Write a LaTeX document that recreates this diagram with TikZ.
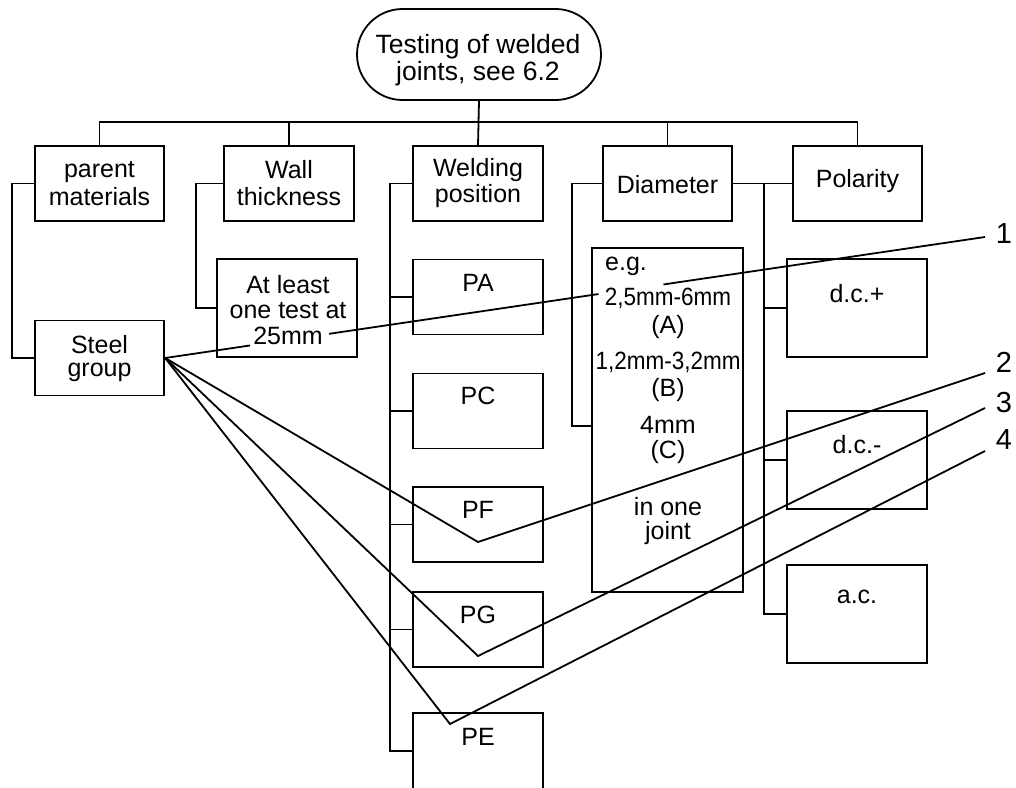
\documentclass[tikz,border=0pt]{standalone}
\usepackage{fontspec}
\setmainfont{Liberation Sans}
\newfontfamily\condfont{Liberation Sans}[FakeStretch=0.9]
\usetikzlibrary{calc}

\begin{document}
\begin{tikzpicture}[x=1pt, y=-1pt, line width=1.8pt,
  box/.style={draw, rectangle, minimum width=129.5pt, minimum height=75pt, inner sep=0pt},
  tallbox/.style={draw, rectangle, minimum width=140pt, minimum height=98pt, inner sep=0pt},
  headbox/.style={draw, rectangle, rounded corners=45.5pt, minimum width=244pt, minimum height=91pt, inner sep=0pt},
  txt/.style={anchor=base, inner sep=0pt, font=\fontsize{25}{29}\selectfont},
  headtxt/.style={anchor=base, inner sep=0pt, font=\fontsize{26.5}{30}\selectfont},
  numtxt/.style={anchor=base west, inner sep=0pt, font=\fontsize{29}{33}\selectfont}]
\useasboundingbox (0,0) rectangle (1016,787);

% --- head of the tree
\node[headbox] (top) at (479,54.5) {};
\node[headtxt] (top1) at (478,53) {Testing of welded};
\node[headtxt] (top2) at (478,80) {joints, see 6.2};

% --- first row of criteria
\node[box] (pm)  at (99.5,183.5)  {};
\node[box] (wt)  at (289,183.5)   {};
\node[box] (wp)  at (478,183.5)   {};
\node[box] (dia) at (667.5,183.5) {};
\node[box] (pol) at (857.5,183.5) {};
\node[txt] (pm1)  at (99.5,177)  {parent};
\node[txt] (pm2)  at (99.5,205)  {materials};
\node[txt] (wt1)  at (289,178)   {Wall};
\node[txt] (wt2)  at (289,205)   {thickness};
\node[txt] (wp1)  at (478,176)   {Welding};
\node[txt] (wp2)  at (478,202)   {position};
\node[txt] (dia1) at (667.5,193) {Diameter};
\node[txt] (pol1) at (857.5,187) {Polarity};

% --- parent materials
\node[box] (sg) at (99.5,358) {};
\node[txt] (sg1) at (99.5,353) {Steel};
\node[txt] (sg2) at (99.5,376) {group};

% --- wall thickness
\node[tallbox] (al) at (287,308) {};
\node[txt] (al1) at (288,293) {At least};
\node[txt] (al2) at (288,318) {one test at};
\node[txt] (al3) at (288,344) {25mm};

% --- welding positions
\node[box] (pa) at (478,297)   {};
\node[box] (pc) at (478,411)   {};
\node[box] (pf) at (478,524.5) {};
\node[box] (pg) at (478,629.5) {};
\node[box, minimum height=76pt] (pe) at (478,751) {};
\node[txt] (pa1) at (478,291) {PA};
\node[txt] (pc1) at (478,404) {PC};
\node[txt] (pf1) at (478,518) {PF};
\node[txt] (pg1) at (478,623) {PG};
\node[txt] (pe1) at (478,745) {PE};

% --- electrode diameters
\node[draw, rectangle, minimum width=151pt, minimum height=344pt, inner sep=0pt] (rng) at (667.5,420) {};
\node[txt] (rg0) at (626,270)   {e.g.};
\node[txt] (rg1) at (668,305)   {\condfont 2,5mm-6mm};
\node[txt] (rg2) at (668,333)   {(A)};
\node[txt] (rg3) at (668,369)   {\condfont 1,2mm-3,2mm};
\node[txt] (rg4) at (668,396)   {(B)};
\node[txt] (rg5) at (668,433)   {4mm};
\node[txt] (rg6) at (668,458)   {(C)};
\node[txt] (rg7) at (668,515)   {in one};
\node[txt] (rg8) at (668,539)   {joint};

% --- polarity
\node[tallbox] (dcp) at (857,308) {};
\node[tallbox] (dcm) at (857,460) {};
\node[tallbox] (ac)  at (857,614) {};
\node[txt] (dcp1) at (857,302) {d.c.+};
\node[txt] (dcm1) at (857,453) {d.c.-};
\node[txt] (ac1)  at (857,603) {a.c.};

% --- tree connectors
\draw (top.south) -- (wp.north);
\draw (pm.north) -- ++(0,-23) -| (pol.north);
\draw (wt.north) -- ++(0,-23);
\draw (dia.north) -- ++(0,-23);
\draw (pm.west) -- ++(-22,0) |- (sg.west);
\draw (wt.west) -- ++(-27,0) |- (al.west);
\draw (wp.west) -- ++(-22,0) |- (pe.west);
\foreach \b in {pa,pc,pf,pg} \draw (\b.west) -- ++(-22,0);
\coordinate (rngb) at ($(rng.west)+(0,6)$);
\draw (dia.west) -- ++(-30,0) |- (rngb);
\draw (dia.east) -- (pol.west);
\coordinate (pj) at ($(dia.east)+(31,0)$);
\draw (pj) |- (ac.west);
\draw (dcp.west) -- (pj |- dcp.west);
\draw (dcm.west) -- (pj |- dcm.west);

% --- reference numbers and leader lines
\node[numtxt] (n1) at (995,243) {1};
\node[numtxt] (n2) at (995,372) {2};
\node[numtxt] (n3) at (995,412) {3};
\node[numtxt] (n4) at (995,449) {4};
\coordinate (e1) at (985,237);
\coordinate (e2) at (985,373);
\coordinate (e3) at (985,408);
\coordinate (e4) at (985,451);
\coordinate (v2) at (478,542);
\coordinate (v3) at (478,656);
\coordinate (v4) at (450,724);

\draw (sg.east) -- ($(sg.east)!0.1035!(e1)$);
\draw ($(sg.east)!0.1998!(e1)$) -- ($(sg.east)!0.5286!(e1)$);
\draw ($(sg.east)!0.6078!(e1)$) -- (e1);
\draw (sg.east) -- (v2) -- (e2);
\draw (sg.east) -- (v3) -- (e3);
\draw (sg.east) -- (v4) -- (e4);
\end{tikzpicture}
\end{document}
